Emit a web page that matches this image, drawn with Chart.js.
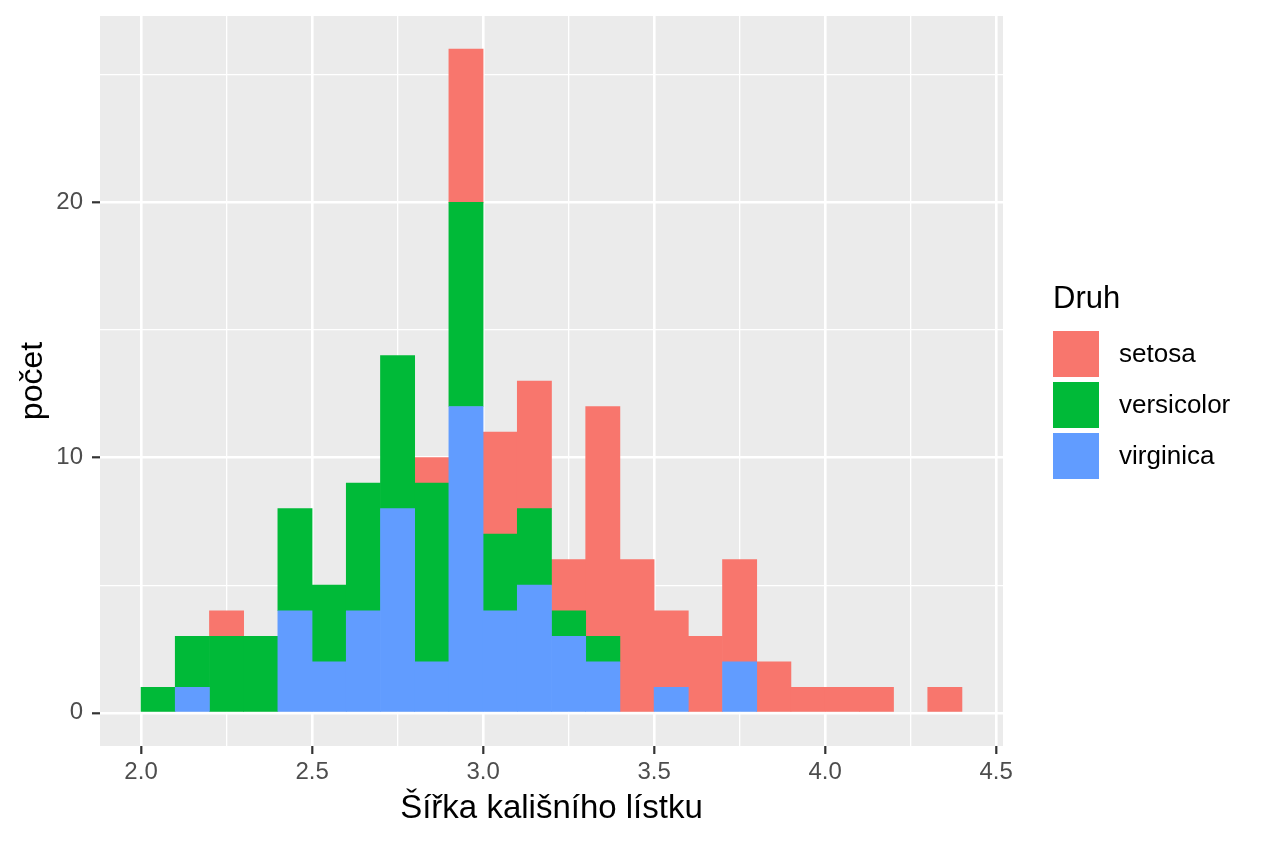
<!DOCTYPE html>
<html>
<head>
<meta charset="utf-8">
<script src="https://cdn.jsdelivr.net/npm/chart.js@4"></script>
<style>
    body { margin: 0; background: #fff; font-family: "Liberation Sans", Arial, sans-serif; }
    #wrap { position: relative; width: 1264px; height: 843px; }
    #legend { position: absolute; left: 1053px; top: 279px; color: #000; }
    #legend .title { font-size: 31px; height: 49px; line-height: 38px; }
    #legend .item { display: flex; align-items: center; height: 51px; }
    #legend .key { width: 46px; height: 46px; margin-right: 20px; }
    #legend .lab { font-size: 26px; }
</style>
</head>
<body>
<div id="wrap">
    <canvas id="histChart" width="1264" height="843"></canvas>
    <div id="legend"></div>
</div>
<script>
// histogram bins (width 0.1), bin centres
const binMids = [2.05, 2.15, 2.25, 2.35, 2.45, 2.55, 2.65, 2.75, 2.85, 2.95, 3.05, 3.15,
                 3.25, 3.35, 3.45, 3.55, 3.65, 3.75, 3.85, 3.95, 4.05, 4.15, 4.25, 4.35];
const setosa     = [0, 0, 1, 0, 0, 0, 0, 0, 1, 6, 4, 5, 2, 9, 6, 3, 3, 4, 2, 1, 1, 1, 0, 1];
const versicolor = [1, 2, 3, 3, 4, 3, 5, 6, 7, 8, 3, 3, 1, 1, 0, 0, 0, 0, 0, 0, 0, 0, 0, 0];
const virginica  = [0, 1, 0, 0, 4, 2, 4, 8, 2, 12, 4, 5, 3, 2, 0, 1, 0, 2, 0, 0, 0, 0, 0, 0];

const xTicks = [2.0, 2.25, 2.5, 2.75, 3.0, 3.25, 3.5, 3.75, 4.0, 4.25, 4.5];
const yTicks = [0, 5, 10, 15, 20, 25];

const species = [
    { name: 'setosa', data: setosa, color: '#F8766D' },
    { name: 'versicolor', data: versicolor, color: '#00BA38' },
    { name: 'virginica', data: virginica, color: '#619CFF' }
];

const FONT = '"Liberation Sans", Arial, sans-serif';

// legend in ggplot order
const legend = document.getElementById('legend');
legend.innerHTML = '<div class="title">Druh</div>' + species.map(s =>
    `<div class="item"><div class="key" style="background:${s.color}"></div><span class="lab">${s.name}</span></div>`
).join('');

// grey ggplot panel
const panelBg = {
    id: 'panelBg',
    beforeDraw(chart) {
        const a = chart.chartArea;
        const ctx = chart.ctx;
        ctx.save();
        ctx.fillStyle = '#EBEBEB';
        ctx.fillRect(a.left, a.top, a.right - a.left, a.bottom - a.top);
        ctx.restore();
    }
};

function isMajor(c, step) {
    if (!c.tick) return false;
    const v = c.tick.value;
    return Math.abs(v / step - Math.round(v / step)) < 1e-6;
}

// stacked bottom-up: virginica, versicolor, setosa (empty bins skipped)
const datasets = species.slice().reverse().map(s => ({
    label: s.name,
    data: binMids.map((x, i) => ({ x: x, y: s.data[i] === 0 ? null : s.data[i] })),
    backgroundColor: s.color,
    borderWidth: 0,
    barPercentage: 1,
    categoryPercentage: 1
}));

new Chart(document.getElementById('histChart').getContext('2d'), {
    type: 'bar',
    data: { datasets: datasets },
    options: {
        responsive: false,
        animation: false,
        layout: { padding: { left: 0, right: 261, top: 16, bottom: 0 } },
        plugins: { legend: { display: false }, tooltip: { enabled: false } },
        scales: {
            x: {
                type: 'linear',
                stacked: true,
                offset: false,
                min: 1.88,
                max: 4.52,
                afterBuildTicks: scale => { scale.ticks = xTicks.map(v => ({ value: v })); },
                afterFit: scale => { scale.height = 97; },
                border: { display: false },
                grid: {
                    offset: false,
                    color: '#FFFFFF',
                    lineWidth: c => isMajor(c, 0.5) ? 2.6 : 1.3,
                    tickColor: c => isMajor(c, 0.5) ? '#333333' : 'rgba(0,0,0,0)',
                    tickLength: 8,
                    tickWidth: 2.2
                },
                ticks: {
                    autoSkip: false,
                    maxRotation: 0,
                    padding: 4,
                    color: '#4D4D4D',
                    font: { family: FONT, size: 24 },
                    callback: v => Math.abs(v * 2 - Math.round(v * 2)) < 1e-6 ? v.toFixed(1) : ''
                },
                title: {
                    display: true,
                    text: 'Šířka kališního lístku',
                    color: '#000',
                    font: { family: FONT, size: 33 },
                    padding: { top: 0, bottom: 14 }
                }
            },
            y: {
                stacked: true,
                min: -1.3,
                max: 27.3,
                afterBuildTicks: scale => { scale.ticks = yTicks.map(v => ({ value: v })); },
                afterFit: scale => {
                    scale.width = 100;
                    scale.paddingTop = 0;
                    scale.paddingBottom = 0;
                },
                border: { display: false },
                grid: {
                    color: '#FFFFFF',
                    lineWidth: c => isMajor(c, 10) ? 2.6 : 1.3,
                    tickColor: c => isMajor(c, 10) ? '#333333' : 'rgba(0,0,0,0)',
                    tickLength: 8,
                    tickWidth: 2.2
                },
                ticks: {
                    autoSkip: false,
                    padding: 9,
                    color: '#4D4D4D',
                    font: { family: FONT, size: 24 },
                    callback: v => v % 10 === 0 ? String(v) : ''
                },
                title: {
                    display: true,
                    text: 'počet',
                    color: '#000',
                    font: { family: FONT, size: 32 },
                    padding: { top: 14, bottom: 0 }
                }
            }
        }
    },
    plugins: [panelBg]
});
</script>
</body>
</html>
